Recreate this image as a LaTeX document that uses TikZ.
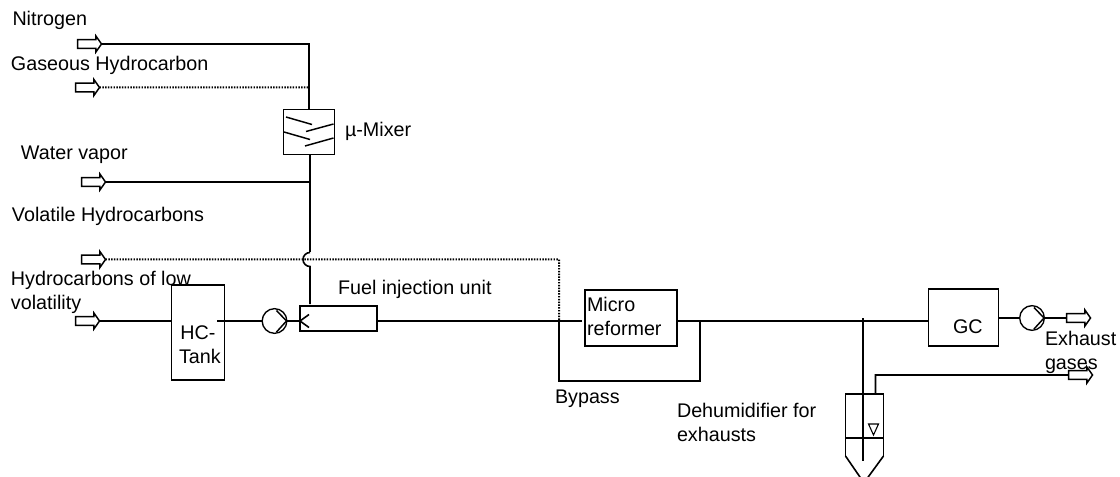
\documentclass[tikz,border=0pt]{standalone}
\usepackage{fontspec}
\setmainfont{Liberation Sans}
\usetikzlibrary{shapes.arrows,calc}
\tikzset{
  x=0.75pt,y=-0.75pt,
  every node/.style={inner sep=0pt,outer sep=0pt},
  pipe/.style={draw=black,line width=1.2pt},
  dotpipe/.style={draw=black,line width=1.5pt,dash pattern=on 1.1pt off 1pt},
  thin part/.style={draw=black,line width=1.1pt},
  portarrow/.style={single arrow,draw=black,line width=1.1pt,fill=white,minimum height=18pt,single arrow head extend=2.8pt,single arrow tip angle=110,inner sep=0pt},
  unit/.style={draw=black,line width=1.2pt,rectangle,anchor=north west},
  pumpc/.style={draw=black,circle,line width=1pt,minimum size=18.5pt},
  lbl/.style={font=\fontsize{14.8}{18}\selectfont,anchor=base west,align=left},
}
\newcommand{\shaft}{\rule{0pt}{5.4pt}}
\begin{document}
\begin{tikzpicture}
\useasboundingbox (0,0) rectangle (1120,477);
% ports
\node[portarrow] (n2) at (88,44) {\shaft};
\node[portarrow] (gh) at (86,87.5) {\shaft};
\node[portarrow] (wv) at (92,182) {\shaft};
\node[portarrow] (vh) at (92,259.5) {\shaft};
\node[portarrow] (lv) at (86,321) {\shaft};
\node[portarrow] (ex1) at (1077,318) {\shaft};
\node[portarrow] (ex2) at (1079,375) {\shaft};
% units
\node[unit,minimum width=38.25pt,minimum height=33.75pt] (mix) at (283.5,109.5) {};
\node[unit,minimum width=39.75pt,minimum height=71.25pt] (tank) at (171.5,285) {};
\node[unit,minimum width=57.75pt,minimum height=18.75pt] (fuel) at (300,306) {};
\node[unit,minimum width=69pt,minimum height=42pt] (ref) at (585,290) {};
\node[unit,minimum width=52.5pt,minimum height=42.75pt] (gc) at (928.5,289) {};
\node[pumpc] (p1) at (274.5,321) {};
\node[pumpc] (p2) at (1032,318) {};
% junctions
\coordinate (jn) at (309,44);
\coordinate (jg) at (309,87.5);
\coordinate (jw) at (310,182);
\coordinate (arcb) at (310,252.5);
\coordinate (fueltop) at (310,304);
\coordinate (vc) at (559,259.5);
\coordinate (bp1) at (559,321);
\coordinate (bp2) at (559,381);
\coordinate (bp3) at (700,381);
\coordinate (bp4) at (700,321);
\coordinate (tankin) at (217,321);
\coordinate (refin) at (582,321);
\coordinate (dv1) at (863,318);
\coordinate (dv2) at (863,461);
\coordinate (dout) at (875.5,394);
\coordinate (dout2) at (875.5,375);
% lines
\draw[pipe] (n2.east) -- (jn) -- (mix.north -| jn);
\draw[dotpipe] (gh.east) -- (jg);
\draw[pipe] (mix.south -| jw) -- (arcb);
\draw[pipe] (arcb) arc[start angle=90,delta angle=180,radius=5.25pt] -- (fueltop);
\draw[pipe] (wv.east) -- (jw);
\draw[dotpipe] (vh.east) -- (vc) -- (bp1);
\draw[pipe] (lv.east) -- (tank.west |- lv);
\draw[pipe] (tankin) -- (p1.west);
\draw[pipe] (p1.east) -- (fuel.west |- p1);
\draw[pipe] (fuel.east |- bp1) -- (refin);
\draw[pipe] (bp1) -- (bp2) -- (bp3) -- (bp4);
\draw[pipe] (ref.east |- bp4) -- (gc.west |- bp4);
\draw[pipe] (dv1) -- (dv2);
\draw[pipe] (gc.east |- p2) -- (p2.west);
\draw[pipe] (p2.east) -- (ex1.west);
\draw[pipe] (dout) -- (dout2) -- (ex2.west);
% mixer baffles
\draw[thin part] (286,117) -- (312,124.5);
\draw[thin part] (333.5,124) -- (306,131.5);
\draw[thin part] (284,132) -- (310,139.5);
\draw[thin part] (333.5,138) -- (305,146);
% pump chevrons
\draw[thin part] ($(p1.center)+(2,-10.5)$) -- ($(p1.center)+(12,0)$) -- ($(p1.center)+(2,11)$);
\draw[thin part] ($(p2.center)+(2,-10.5)$) -- ($(p2.center)+(12,0)$) -- ($(p2.center)+(2,11)$);
% injector
\draw[pipe] (300,321) -- (309,314.5);
\draw[pipe] (300,321) -- (309,327.5);
% dehumidifier
\draw[pipe] (845.5,456) -- (845.5,394) -- (883.5,394) -- (883.5,456);
\draw[pipe] (845.5,438) -- (883.5,438);
\draw[pipe] (845.5,456) -- (862,480);
\draw[pipe] (883.5,456) -- (866,480);
\draw[draw=black,line width=0.8pt] (868.5,424) -- (878.5,424) -- (873.5,435) -- cycle;
% labels
\node[lbl] (t1) at (12.5,26) {Nitrogen};
\node[lbl] (t2) at (11,71) {Gaseous Hydrocarbon};
\node[lbl] (t3) at (21,159.5) {Water vapor};
\node[lbl] (t4) at (12,222) {Volatile Hydrocarbons};
\node[lbl,anchor=north west] (t5) at (11,271) {Hydrocarbons of low\\volatility};
\node[lbl] (t6) at (345,137) {µ-Mixer};
\node[lbl] (t7) at (338,294) {Fuel injection unit};
\node[lbl,anchor=north west] (t8) at (179,326) {\hspace*{1pt}HC-\\Tank};
\node[lbl,anchor=north west] (t9) at (587,297) {Micro\\reformer};
\node[lbl] (t10) at (555,403) {Bypass};
\node[lbl,anchor=north west] (t11) at (677,403) {Dehumidifier for\\exhausts};
\node[lbl] (t12) at (953,333) {GC};
\node[lbl,anchor=north west] (t13) at (1045,331) {Exhaust\\gases};
\end{tikzpicture}
\end{document}
